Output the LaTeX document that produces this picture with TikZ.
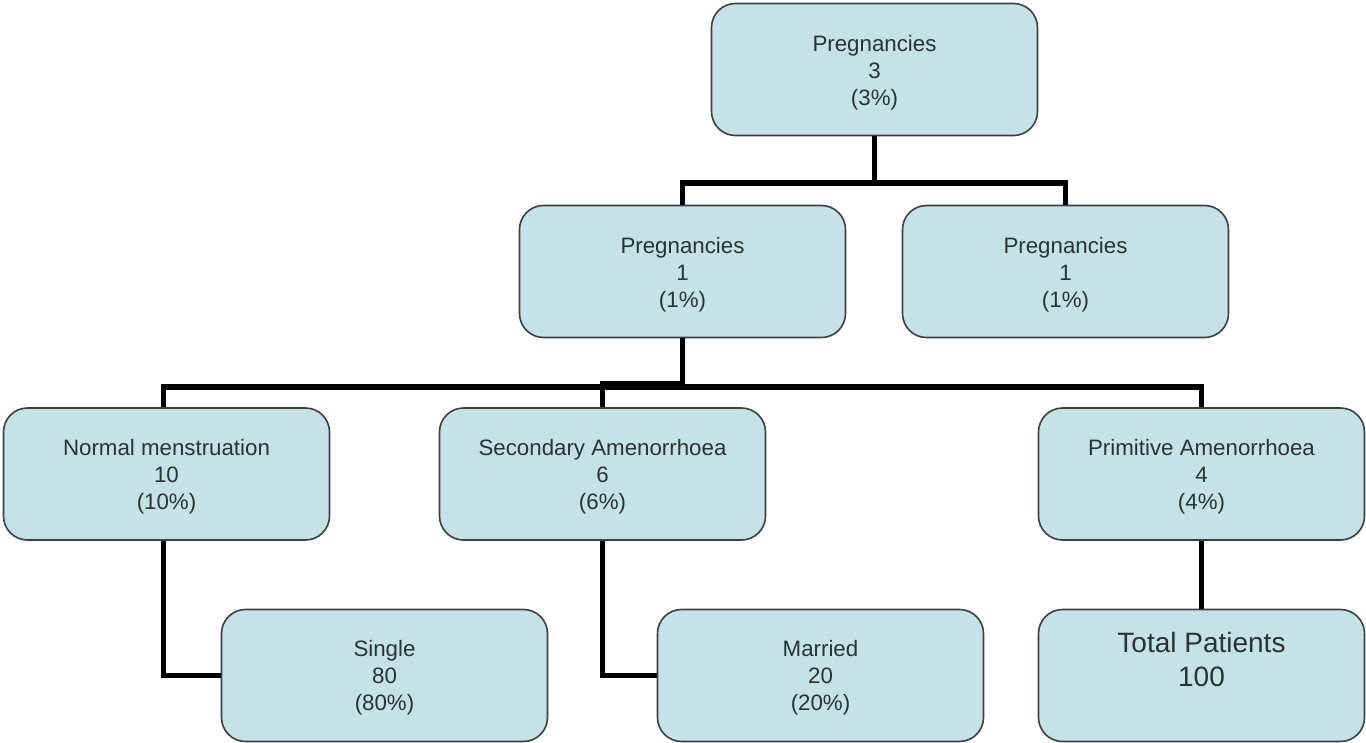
\documentclass[tikz,border=0pt]{standalone}
\usepackage{fontspec}
\setmainfont{Liberation Sans}
\definecolor{boxfill}{RGB}{197,227,231}
\definecolor{boxline}{RGB}{60,64,64}
\definecolor{boxtext}{RGB}{40,52,52}
\begin{document}
\begin{tikzpicture}[x=1pt,y=-1pt,
  orgbox/.style={draw=boxline, line width=1.6pt, fill=boxfill, rounded corners=24pt,
    minimum width=326pt, minimum height=132pt, inner sep=0pt},
  lbl/.style={align=center, text=boxtext, inner sep=0pt, font=\fontsize{22.3}{26.8}\selectfont},
  biglbl/.style={align=center, text=boxtext, inner sep=0pt, font=\fontsize{28}{34}\selectfont},
  conn/.style={line width=5.8pt, black}]
\useasboundingbox (0,0) rectangle (1366,743);
\coordinate (h1) at (0,183);
\coordinate (h2) at (0,387);
\coordinate (h2b) at (0,384);

\node[orgbox] (top) at (874.5,69.5) {};
\node[orgbox] (m1) at (682.5,271.5) {};
\node[orgbox] (m2) at (1065.5,271.5) {};
\node[orgbox] (r1) at (166.5,474) {};
\node[orgbox] (r2) at (602.5,474) {};
\node[orgbox] (r3) at (1201.5,474) {};
\node[orgbox] (s1) at (384.5,675.5) {};
\node[orgbox] (s2) at (820.5,675.5) {};
\node[orgbox] (s3) at (1201.5,675.5) {};

\node[lbl] (topt) at ([yshift=-3pt]top.center) {Pregnancies\\3\\(3\%)};
\node[lbl] (m1t) at ([yshift=-3pt]m1.center) {Pregnancies\\1\\(1\%)};
\node[lbl] (m2t) at ([yshift=-3pt]m2.center) {Pregnancies\\1\\(1\%)};
\node[lbl] (r1t) at ([yshift=-3pt]r1.center) {Normal menstruation\\10\\(10\%)};
\node[lbl] (r2t) at ([yshift=-3pt]r2.center) {Secondary Amenorrhoea\\6\\(6\%)};
\node[lbl] (r3t) at ([yshift=-3pt]r3.center) {Primitive Amenorrhoea\\4\\(4\%)};
\node[lbl] (s1t) at ([yshift=-2pt]s1.center) {Single\\80\\(80\%)};
\node[lbl] (s2t) at ([yshift=-2pt]s2.center) {Married\\20\\(20\%)};
\node[biglbl] (s3t) at ([yshift=16pt]s3.center) {Total Patients\\100};

\draw[conn] (top.south) -- (top.south |- h1) -| (m1.north);
\draw[conn] (top.south |- h1) -| (m2.north);
\draw[conn] (m1.south) -- (m1.south |- h2) -| ([xshift=-3pt]r1.north);
\draw[conn] (m1.south |- h2) -| (r3.north);
\draw[conn] (m1.south |- h2b) -| (r2.north);
\draw[conn] ([xshift=-3pt]r1.south) |- (s1.west);
\draw[conn] (r2.south) |- (s2.west);
\draw[conn] (r3.south) -- (s3.north);
\end{tikzpicture}
\end{document}
